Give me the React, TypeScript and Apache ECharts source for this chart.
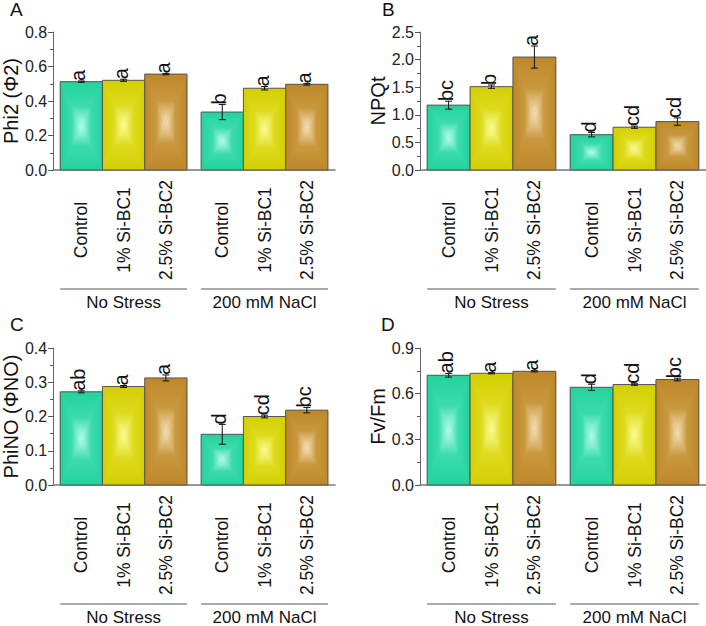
import React, { useEffect, useRef } from "react";
import * as echarts from "echarts";

const categories = ["Control", "1% Si-BC1", "2.5% Si-BC2", "Control", "1% Si-BC1", "2.5% Si-BC2"];
const groupNames = ["No Stress", "200 mM NaCl"];

const phi2 = [0.512, 0.52, 0.556, 0.336, 0.474, 0.497];
const phi2Err = [0.004, 0.006, 0.004, 0.044, 0.01, 0.005];
const phi2Letters = ["a", "a", "a", "b", "a", "a"];

const npqt = [1.175, 1.51, 2.046, 0.64, 0.775, 0.877];
const npqtErr = [0.073, 0.03, 0.2, 0.04, 0.02, 0.067];
const npqtLetters = ["bc", "b", "a", "d", "cd", "cd"];

const phiNO = [0.272, 0.2875, 0.3126, 0.148, 0.2, 0.2185];
const phiNOErr = [0.003, 0.003, 0.0087, 0.029, 0.004, 0.008];
const phiNOLetters = ["ab", "a", "a", "d", "cd", "bc"];

const fvfm = [0.721, 0.734, 0.747, 0.642, 0.66, 0.693];
const fvfmErr = [0.012, 0.004, 0.004, 0.02, 0.005, 0.009];
const fvfmLetters = ["ab", "a", "a", "d", "cd", "bc"];

const FONT = "'Liberation Sans', Arial, sans-serif";
const edgeColors = ["#22d29c", "#d3ce02", "#be8729"];
const midColors = ["#3cdcac", "#dedb1e", "#c9983e"];
const centerColors = ["#b8ffe8", "#fdfd9a", "#f7e2bc"];

const grad = (x: number, y: number, x2: number, y2: number, k: number) => ({
  type: "linear",
  x,
  y,
  x2,
  y2,
  colorStops: [
    { offset: 0, color: edgeColors[k] },
    { offset: 0.55, color: midColors[k] },
    { offset: 1, color: centerColors[k] },
  ],
});

function makeRenderItem(values: number[], errors: number[], letters: string[]) {
  return (params: any, api: any) => {
    const i = params.dataIndex;
    const g = Math.floor(i / 3);
    const k = i % 3;
    const base = api.coord([g * 3 + 1, 0]);
    const band = api.size([1, 0])[0];
    const barW = band * 0.9;
    const xc = base[0] + (k - 1) * barW;
    const y0 = base[1];
    const yT = api.coord([i, values[i]])[1];
    const yEt = api.coord([i, values[i] + errors[i]])[1];
    const yEb = api.coord([i, values[i] - errors[i]])[1];
    const L = xc - barW / 2;
    const R = xc + barW / 2;
    const cy = (yT + y0) / 2;
    const children: any[] = [
      { type: "rect", shape: { x: L, y: yT, width: barW, height: y0 - yT }, style: { fill: midColors[k] } },
      { type: "polygon", shape: { points: [[L, yT], [R, yT], [xc, cy]] }, style: { fill: grad(0, 0, 0, 1, k) } },
      { type: "polygon", shape: { points: [[L, y0], [R, y0], [xc, cy]] }, style: { fill: grad(0, 1, 0, 0, k) } },
      { type: "polygon", shape: { points: [[L, yT], [L, y0], [xc, cy]] }, style: { fill: grad(0, 0, 1, 0, k) } },
      { type: "polygon", shape: { points: [[R, yT], [R, y0], [xc, cy]] }, style: { fill: grad(1, 0, 0, 0, k) } },
      { type: "rect", shape: { x: L, y: yT, width: barW, height: y0 - yT }, style: { fill: "none", stroke: "#555", lineWidth: 1 } },
      { type: "line", shape: { x1: xc, y1: yEt, x2: xc, y2: yEb }, style: { stroke: "#111", lineWidth: 1 } },
      { type: "line", shape: { x1: xc - 3.5, y1: yEt, x2: xc + 3.5, y2: yEt }, style: { stroke: "#111", lineWidth: 1 } },
      { type: "line", shape: { x1: xc - 3.5, y1: yEb, x2: xc + 3.5, y2: yEb }, style: { stroke: "#111", lineWidth: 1 } },
      {
        type: "text",
        x: xc - 3,
        y: yEt,
        rotation: Math.PI / 2,
        style: { text: letters[i], fontSize: 20, fontFamily: FONT, fill: "#111", align: "left", verticalAlign: "middle" },
      },
      {
        type: "text",
        x: xc,
        y: y0 + 60,
        rotation: Math.PI / 2,
        style: { text: categories[i], fontSize: 17.5, fontFamily: FONT, fill: "#111", align: "center", verticalAlign: "middle" },
      },
    ];
    if (k === 1) {
      children.push({
        type: "line",
        shape: { x1: xc - 1.5 * barW, y1: y0 + 119, x2: xc + 1.5 * barW, y2: y0 + 119 },
        style: { stroke: "#555", lineWidth: 1 },
      });
      children.push({
        type: "text",
        x: xc,
        y: y0 + 132,
        style: { text: groupNames[g], fontSize: 17, fontFamily: FONT, fill: "#111", align: "center", verticalAlign: "middle" },
      });
    }
    return { type: "group", children };
  };
}

const panels = [
  { label: "A", title: "Phi2 (Φ2)", values: phi2, errors: phi2Err, letters: phi2Letters, max: 0.8, interval: 0.2, grid: { left: 48, top: 32, width: 287, height: 138 }, lx: 10, ly: 0 },
  { label: "B", title: "NPQt", values: npqt, errors: npqtErr, letters: npqtLetters, max: 2.5, interval: 0.5, grid: { left: 420, top: 32, width: 286, height: 138 }, lx: 382, ly: 0 },
  { label: "C", title: "PhiNO (ΦNO)", values: phiNO, errors: phiNOErr, letters: phiNOLetters, max: 0.4, interval: 0.1, grid: { left: 48, top: 348, width: 287, height: 137 }, lx: 10, ly: 315 },
  { label: "D", title: "Fv/Fm", values: fvfm, errors: fvfmErr, letters: fvfmLetters, max: 0.9, interval: 0.3, grid: { left: 420, top: 348, width: 286, height: 137 }, lx: 381, ly: 315 },
];

export default function App() {
  const ref = useRef<HTMLDivElement>(null);
  useEffect(() => {
    if (!ref.current) return;
    const chart = echarts.init(ref.current, undefined, { renderer: "svg" });
    const option: any = {
      animation: false,
      backgroundColor: "#ffffff",
      textStyle: { fontFamily: FONT },
      grid: panels.map((p) => p.grid),
      xAxis: panels.map((p, gi) => ({
        type: "category",
        gridIndex: gi,
        data: categories,
        axisLine: { show: true, lineStyle: { color: "#777", width: 1.5 } },
        axisTick: { show: false },
        axisLabel: { show: false },
        splitLine: { show: false },
      })),
      yAxis: panels.map((p, gi) => ({
        type: "value",
        gridIndex: gi,
        min: 0,
        max: p.max,
        interval: p.interval,
        name: p.title,
        nameLocation: "middle",
        nameGap: 29,
        nameTextStyle: { fontSize: 20, fontFamily: FONT, color: "#111" },
        axisLine: { show: true, lineStyle: { color: "#666", width: 1 } },
        axisTick: { show: true, inside: false, length: 5, lineStyle: { color: "#555" } },
        minorTick: { show: true, splitNumber: 2, length: 3, lineStyle: { color: "#555" } },
        axisLabel: {
          fontSize: 16,
          fontFamily: FONT,
          color: "#222",
          margin: 6,
          formatter: (v: number) => v.toFixed(1),
        },
        splitLine: { show: false },
      })),
      graphic: panels.map((p) => ({
        type: "text",
        left: p.lx,
        top: p.ly,
        style: { text: p.label, fontSize: 19, fontFamily: FONT, fill: "#111" },
      })),
      series: panels.map((p, gi) => ({
        type: "custom",
        xAxisIndex: gi,
        yAxisIndex: gi,
        clip: false,
        data: p.values.map((v, i) => [i, v]),
        encode: { x: 0, y: 1 },
        renderItem: makeRenderItem(p.values, p.errors, p.letters),
      })),
    };
    chart.setOption(option);
    return () => chart.dispose();
  }, []);
  return <div ref={ref} style={{ position: "absolute", left: 0, top: 0, width: 706, height: 626 }} />;
}
